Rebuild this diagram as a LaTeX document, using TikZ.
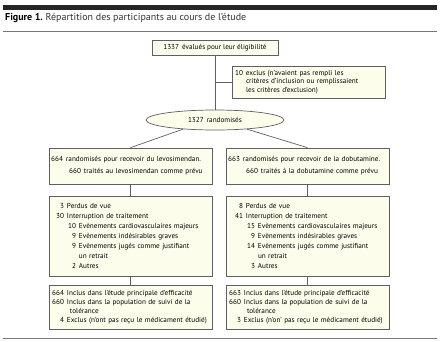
\documentclass[tikz,border=0pt]{standalone}
\usepackage{fontspec}
\setmainfont{PT Sans}
\usepackage{xcolor}
\usepackage{tikz}
\usetikzlibrary{shapes.geometric}

\definecolor{boxfill}{RGB}{253,253,236}
\definecolor{boxline}{RGB}{95,95,95}
\definecolor{rulegray}{RGB}{120,120,120}

\newcommand\numto[2]{\makebox[#1][r]{#2}\hspace{3pt}}

\tikzset{
  flowbox/.style={draw=boxline, fill=boxfill, line width=0.7pt, inner xsep=3pt,
    inner ysep=0pt, align=left, font=\fontsize{7.2}{10}\selectfont},
  armbox/.style={flowbox, text width=157pt, minimum height=#1},
  link/.style={draw=boxline, line width=0.7pt}
}

\begin{document}
\begin{tikzpicture}[x=1pt,y=-1pt]
\useasboundingbox (0,0) rectangle (440,341);
% title and rules
\fill[black!85] (3,5) rectangle (437,9.5);
\node[anchor=base west, inner sep=0pt, font=\fontsize{10}{12}\selectfont] (title) at (5,20)
  {\textbf{Figure 1.}\ \color{black!80}Répartition des participants au cours de l'étude};
\draw[rulegray, line width=0.6pt] (3,31) -- (437,31);
\draw[rulegray, line width=0.6pt] (3,338) -- (437,338);

% screening
\node[flowbox, minimum width=126pt, minimum height=15pt] (eval) at (215,47.5)
  {1337\hspace{3pt}évalués pour leur éligibilité};
\node[flowbox, text width=147pt, minimum height=32pt, font=\fontsize{7.2}{8.7}\selectfont] (excl) at (308.5,82)
  {\numto{8pt}{10}exclus (n'avaient pas rempli les\\
   \hspace*{11pt}critères d'inclusion ou remplissaient\\
   \hspace*{11pt}les critères d'exclusion)};
\node[ellipse, draw=boxline, fill=boxfill, line width=0.7pt, minimum width=138pt,
  minimum height=20pt, inner sep=0pt, font=\fontsize{7.2}{10}\selectfont] (rand) at (215,120)
  {1327\hspace{3pt}randomisés};

% arms
\node[armbox=36pt, font=\fontsize{7.2}{12}\selectfont] (levo) at (130.5,166)
  {\numto{11pt}{664}randomisés pour recevoir du levosimendan.\\
   \hspace*{18pt}\numto{11pt}{660}traités au levosimendan comme prévu};
\node[armbox=36pt, font=\fontsize{7.2}{12}\selectfont] (dobu) at (307.5,166)
  {\numto{11pt}{663}randomisés pour recevoir de la dobutamine.\\
   \hspace*{18pt}\numto{11pt}{660}traités à la dobutamine comme prévu};

% follow-up
\node[armbox=80pt] (levoflw) at (130.5,236)
  {\numto{12pt}{3}Perdus de vue\\
   \numto{12pt}{30}Interruption de traitement\\
   \hspace*{12pt}\numto{12pt}{10}Evènements cardiovasculaires majeurs\\
   \hspace*{12pt}\numto{12pt}{9}Evènements indésirables graves\\
   \hspace*{12pt}\numto{12pt}{9}Evènements jugés comme justifiant\\
   \hspace*{27pt}un retrait\\
   \hspace*{12pt}\numto{12pt}{2}Autres};
\node[armbox=80pt] (dobuflw) at (307.5,236)
  {\hspace*{2pt}\numto{12pt}{8}Perdus de vue\\
   \hspace*{2pt}\numto{12pt}{41}Interruption de traitement\\
   \hspace*{14pt}\numto{12pt}{15}Evènements cardiovasculaires majeurs\\
   \hspace*{14pt}\numto{12pt}{9}Evènements indésirables graves\\
   \hspace*{14pt}\numto{12pt}{14}Evènements jugés comme justifiant\\
   \hspace*{29pt}un retrait\\
   \hspace*{14pt}\numto{12pt}{3}Autres};

% analysis
\node[armbox=44pt, font=\fontsize{7.2}{8.8}\selectfont] (levoana) at (130.5,307)
  {\numto{12pt}{664}Inclus dans l'étude principale d'efficacité\\
   \numto{12pt}{660}Inclus dans la population de suivi de la\\
   \hspace*{18pt}tolérance\\
   \numto{12pt}{4}Exclus (n'ont pas reçu le médicament étudié)};
\node[armbox=44pt, font=\fontsize{7.2}{8.8}\selectfont] (dobuana) at (307.5,307)
  {\numto{12pt}{663}Inclus dans l'étude principale d'efficacité\\
   \numto{12pt}{660}Inclus dans la population de suivi de la\\
   \hspace*{18pt}tolérance\\
   \numto{12pt}{3}Exclus (n'on' pas reçu le médicament étudié)};

% connectors
\draw[link] (eval) -- (rand);
\draw[link] (excl.west) -- (excl.west -| eval.south);
\draw[link] (rand.196) -- (levo.north);
\draw[link] (rand.344) -- (dobu.north);
\draw[link] (levo) -- (levoflw);
\draw[link] (dobu) -- (dobuflw);
\draw[link] (levoflw) -- (levoana);
\draw[link] (dobuflw) -- (dobuana);
\end{tikzpicture}
\end{document}
